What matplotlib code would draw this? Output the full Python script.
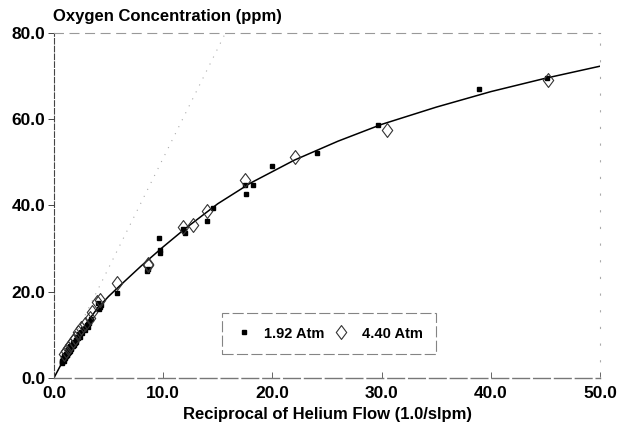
import matplotlib
matplotlib.use('Agg')
import matplotlib.pyplot as plt
from matplotlib.path import Path

# 1.92 Atm readings
low_x = [0.75, 0.8, 0.85, 0.9, 0.95, 1.0, 1.05, 1.1, 1.15, 1.2, 1.3, 1.35, 1.4, 1.5, 1.55,
         1.65, 1.75, 1.85, 2.0, 2.1, 2.3, 2.5, 2.7, 3.0, 3.2, 3.4, 4.1, 4.2, 4.3, 4.0,
         0.72, 0.78, 0.88, 0.92, 0.98, 1.02, 1.08, 1.12, 1.18, 1.25, 1.28, 1.38, 1.45,
         1.6, 1.7, 1.8, 1.95, 2.05, 2.2, 2.4, 2.6, 2.85, 3.1, 2.0, 1.5,
         5.8, 8.5, 8.6, 9.6, 9.7, 9.7, 11.8, 12.0, 11.9, 14.0, 14.6, 17.5, 17.6, 18.2,
         20.0, 24.1, 29.7, 38.9, 45.1]
low_y = [3.8, 4.3, 4.6, 5.0, 4.4, 5.3, 4.9, 5.6, 5.9, 5.4, 6.3, 6.0, 6.8, 7.1, 6.6,
         7.6, 8.0, 8.3, 8.9, 9.5, 10.1, 10.6, 11.4, 12.3, 12.8, 13.6, 16.0, 16.5, 17.0, 17.3,
         3.4, 4.0, 3.9, 4.7, 5.1, 4.6, 5.4, 5.0, 5.3, 5.7, 6.5, 6.3, 6.2,
         6.9, 7.3, 7.7, 8.2, 8.7, 9.2, 9.6, 10.4, 11.0, 11.8, 8.3, 7.4,
         19.7, 24.8, 25.3, 32.5, 29.7, 29.0, 34.5, 33.6, 34.0, 36.3, 39.4, 44.8, 42.7, 44.8,
         49.2, 52.2, 58.7, 67.0, 69.5]

# 4.40 Atm readings
high_x = [0.9, 1.1, 1.3, 1.5, 1.7, 1.9, 2.2, 2.5, 2.8, 3.3, 3.5, 3.9, 4.2, 5.8, 8.6, 8.6,
          11.8, 12.7, 14.0, 17.5, 22.1, 30.5, 45.2]
high_y = [5.5, 6.3, 7.0, 7.7, 8.6, 9.3, 10.6, 11.5, 12.6, 13.8, 15.3, 17.6, 18.0, 22.0, 26.2, 26.5,
          35.0, 35.5, 38.7, 45.9, 51.3, 57.5, 69.1]

# fitted curve
fit_x = [0, 0.5, 1, 1.5, 2, 3, 4, 5, 6, 8, 10, 12, 15, 18, 22, 26, 30, 35, 40, 45, 50]
fit_y = [0, 2.4, 4.7, 6.9, 9.0, 12.8, 16.2, 18.9, 21.3, 26.0, 30.4, 34.6, 40.4, 45.2,
         50.5, 54.9, 58.8, 62.8, 66.4, 69.5, 72.3]

# initial slope line
slope_x = [0, 15.7]
slope_y = [0, 80]

x_ticks = [0, 10, 20, 30, 40, 50]
y_ticks = [0, 20, 40, 60, 80]

plt.rcParams['font.family'] = ['Liberation Sans', 'DejaVu Sans']
plt.rcParams['font.weight'] = 'bold'

fig = plt.figure(figsize=(6.2, 4.28), dpi=100)
ax = fig.add_axes([0.087, 0.117, 0.881, 0.806])

diamond = Path([(0, 1), (0.75, 0), (0, -1), (-0.75, 0), (0, 1)],
               [Path.MOVETO, Path.LINETO, Path.LINETO, Path.LINETO, Path.CLOSEPOLY])

ax.plot(slope_x, slope_y, color='#aaaaaa', lw=0.8, ls=(0, (1, 6)))
ax.plot(fit_x, fit_y, color='black', lw=1.1)
ax.plot(low_x, low_y, ls='none', marker='s', ms=3.4, color='black', label='1.92 Atm')
ax.plot(high_x, high_y, ls='none', marker=diamond, ms=10, mfc='none', mec='#333333',
        mew=0.8, label='4.40 Atm')

ax.set_xlim(0, 50)
ax.set_ylim(0, 80)
ax.set_xticks(x_ticks)
ax.set_yticks(y_ticks)
ax.set_xticklabels(['%.1f' % v for v in x_ticks], fontsize=12.5, fontweight='bold')
ax.set_yticklabels(['%.1f' % v for v in y_ticks], fontsize=12.5, fontweight='bold')
ax.tick_params(axis='x', direction='in', length=4, width=0.7, color='#666666', pad=6)
ax.tick_params(axis='y', direction='out', length=4, width=0.7, color='#444444', pad=2)

ax.spines['top'].set(color='#999999', lw=0.8, ls=(0, (8, 6)))
ax.spines['right'].set(color='#aaaaaa', lw=0.8, ls=(0, (1, 14)))
ax.spines['left'].set(color='#444444', lw=0.8, ls=(0, (5, 2)))
ax.spines['bottom'].set(color='#777777', lw=1.0, ls=(0, (12, 3)))

ax.set_xlabel('Reciprocal of Helium Flow (1.0/slpm)', fontsize=12, fontweight='bold', labelpad=4)
fig.text(0.086, 0.945, 'Oxygen Concentration (ppm)', fontsize=12, fontweight='bold',
         ha='left', va='bottom')

leg = ax.legend(loc='lower left', bbox_to_anchor=(0.294, 0.049, 0.418, 0.11), mode='expand',
                ncol=2, frameon=True, fancybox=False, fontsize=10.5, handlelength=1.2,
                handletextpad=0.8, borderpad=0.9, columnspacing=2.0)
leg.get_frame().set_edgecolor('#666666')
leg.get_frame().set_linestyle((0, (10, 3)))
leg.get_frame().set_linewidth(0.8)
for t in leg.get_texts():
    t.set_fontweight('bold')

fig.savefig('out.png', dpi=100)
